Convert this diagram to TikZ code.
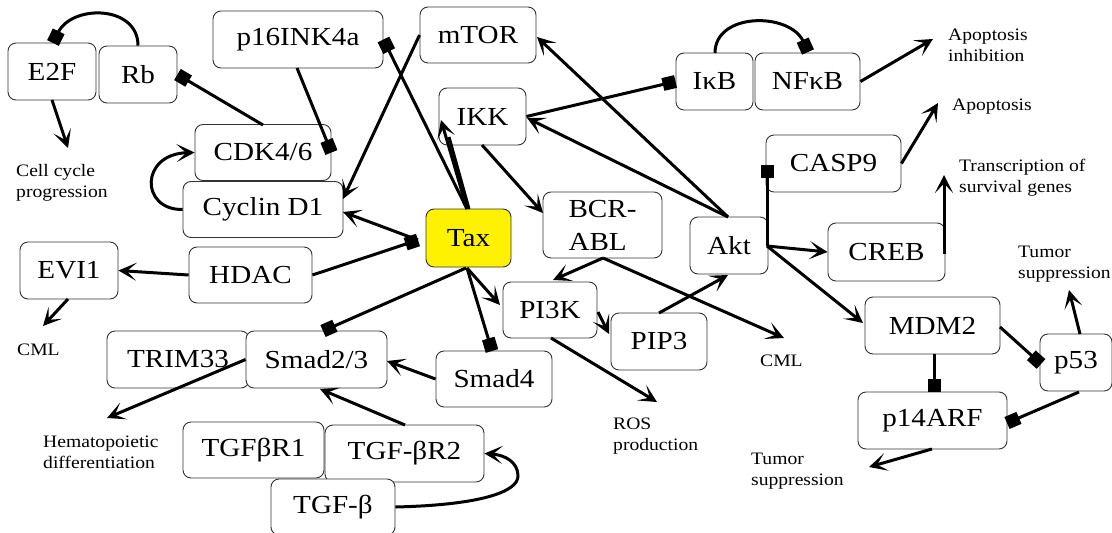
\documentclass[tikz,border=0pt]{standalone}
\usepackage{fontspec}
\setmainfont{Liberation Serif}[FakeStretch=1.12]
\usetikzlibrary{arrows.meta}

\begin{document}
\begin{tikzpicture}[x=1pt,y=-1pt,
  box/.style={draw=black!80, line width=0.9pt, rounded corners=8pt, fill=white,
    inner sep=0pt, font=\fontsize{26}{33}\selectfont},
  lbl/.style={anchor=west, align=left, inner sep=0pt, font=\fontsize{17.5}{21}\selectfont},
  link/.style={line width=3pt},
  act/.style={link, -{Stealth[length=18pt,width=18pt,inset=9.5pt]}},
  inh/.style={link, -{Square[length=13pt,width=13pt]}},
]
\useasboundingbox (0,0) rectangle (1112,533);

% ---------- molecules ----------
\node[box, minimum width=88pt,  minimum height=57pt] (e2f)    at (52,71.5)    {E2F};
\node[box, minimum width=78pt,  minimum height=57pt] (rb)     at (138,74.5)   {Rb};
\node[box, minimum width=170pt, minimum height=57pt] (p16)    at (298,39.5)   {p16INK4a};
\node[box, minimum width=136pt, minimum height=56pt] (cdk)    at (263,152.5)  {CDK4/6};
\node[box, minimum width=160pt, minimum height=56pt] (cyc)    at (263,209.5)  {Cyclin D1};
\node[box, minimum width=116pt, minimum height=56pt] (mtor)   at (478,35)     {mTOR};
\node[box, minimum width=87pt,  minimum height=57pt] (ikk)    at (482.5,116.5){IKK};
\node[box, minimum width=85pt,  minimum height=58pt, fill=yellow] (tax) at (468.5,238) {Tax};
\node[box, minimum width=119pt, minimum height=66pt, align=left] (bcr) at (602.5,225) {BCR-\\ABL};
\node[box, minimum width=78pt,  minimum height=57pt] (akt)    at (729,245.5)  {Akt};
\node[box, minimum width=77pt,  minimum height=57pt] (ikb)    at (714.5,81.5) {I\char"03BA B};
\node[box, minimum width=105pt, minimum height=57pt] (nfkb)   at (807.5,81.5) {NF\char"03BA B};
\node[box, minimum width=135pt, minimum height=57pt] (casp)   at (833.5,163.5){CASP9};
\node[box, minimum width=117pt, minimum height=58pt] (creb)   at (886.5,252)  {CREB};
\node[box, minimum width=98pt,  minimum height=57pt] (evi)    at (69,270.5)   {EVI1};
\node[box, minimum width=123pt, minimum height=56pt] (hdac)   at (250.5,275)  {HDAC};
\node[box, minimum width=142pt, minimum height=57pt] (trim)   at (178,359.5)  {TRIM33};
\node[box, minimum width=141pt, minimum height=57pt] (smad23) at (316.5,359.5){Smad2/3};
\node[box, minimum width=116pt, minimum height=56pt] (smad4)  at (494,379)    {Smad4};
\node[box, minimum width=94pt,  minimum height=56pt] (pi3k)   at (550,310)    {PI3K};
\node[box, minimum width=96pt,  minimum height=57pt] (pip3)   at (659,341.5)  {PIP3};
\node[box, minimum width=141pt, minimum height=56pt] (tgfr1)  at (253.5,450)  {TGF\char"03B2 R1};
\node[box, minimum width=159pt, minimum height=57pt] (tgfr2)  at (404.5,453.5){TGF-\char"03B2 R2};
\node[box, minimum width=124pt, minimum height=56pt] (tgfb)   at (333,507)    {TGF-\char"03B2};
\node[box, minimum width=135pt, minimum height=57pt] (mdm2)   at (932.5,325.5){MDM2};
\node[box, minimum width=72pt,  minimum height=57pt] (p53)    at (1076,362.5) {p53};
\node[box, minimum width=149pt, minimum height=57pt] (p14)    at (932.5,420.5){p14ARF};

% ---------- outcomes ----------
\node[lbl] (cellcyc) at (16,183)   {Cell cycle\\progression};
\node[lbl] (cml1)    at (17,350)   {CML};
\node[lbl] (hemato)  at (43,452.5) {Hematopoietic\\differentiation};
\node[lbl] (ros)     at (613,436)  {ROS\\production};
\node[lbl] (cml2)    at (760,361)  {CML};
\node[lbl] (tumor1)  at (751,471)  {Tumor\\suppression};
\node[lbl] (tumor2)  at (1018,264) {Tumor\\suppression};
\node[lbl] (apinh)   at (948,45)   {Apoptosis\\inhibition};
\node[lbl] (apop)    at (952,107)  {Apoptosis};
\node[lbl] (transc)  at (959,177.5){Transcription of\\survival genes};

% ---------- connector end points ----------
\coordinate (taxtop)  at (467,209);
\coordinate (taxbot)  at (467,268);
\coordinate (taxw)    at (418,240);
\coordinate (aktn)    at (728,217);
\coordinate (akte)    at (767,246);
\coordinate (bcrs)    at (603,258);
\coordinate (cellcycT) at (68,148);
\coordinate (cml1T)   at (43,326);
\coordinate (hematoT) at (107,418);
\coordinate (rosT)    at (657,402);
\coordinate (cml2T)   at (784,338);
\coordinate (tumor1T) at (869,467);
\coordinate (tumor2T) at (1069,290);
\coordinate (apinhT)  at (933,39);
\coordinate (apopT)   at (938,103);
\coordinate (transcT) at (944,175);

% ---------- cell cycle ----------
\draw[inh] (rb.north) .. controls (138,5) and (72,4) .. (53,43);
\draw[inh] (263,125) -- (rb.east);
\draw[inh] (297,68) -- (cdk.east);
\draw[act] (cyc.west) .. controls (140,210) and (140,154) .. (cdk.west);
\draw[act] (52,100) -- (cellcycT);
\draw[act] (mtor.west) -- (343,199);
\draw[inh] (taxtop) -- (p16.east);

% ---------- Tax ----------
\draw[act] (taxtop) -- (441,120);
\draw[link] (469,209) -- (449,137);
\draw[inh] (hdac.east) -- (taxw);
\draw[act] (taxw) -- (343,212);
\draw[act] (taxbot) -- (500,305);
\draw[inh] (taxbot) -- (492,351);
\draw[inh] (466,268) -- (323,331);

% ---------- IKK / NF-kB ----------
\draw[act] (482,145) -- (543,213);
\draw[inh] (ikk.east) -- (ikb.west);
\draw[inh] (715,53) .. controls (715,12) and (790,12) .. (808,52);
\draw[act] (nfkb.east) -- (apinhT);

% ---------- Akt ----------
\draw[act] (aktn) -- (537,37);
\draw[act] (aktn) -- (527,118);
\draw[inh] (akte) -- (767,165);
\draw[act] (casp.east) -- (apopT);
\draw[act] (akte) -- (creb.west);
\draw[act] (944,254) -- (transcT);
\draw[act] (akte) -- (863,323);
\draw[act] (659,313) -- (728,275);

% ---------- BCR-ABL / PI3K ----------
\draw[act] (bcrs) -- (553,280);
\draw[act] (bcrs) -- (cml2T);
\draw[act] (598,312) -- (609,334);
\draw[act] (551,338) -- (rosT);

% ---------- HDAC / Smad ----------
\draw[act] (hdac.west) -- (evi.east);
\draw[act] (68,299) -- (cml1T);
\draw[act] (smad4.west) -- (387,361);
\draw[act] (405,425) -- (320,389);
\draw[act] (smad23.west) -- (hematoT);
\draw[act] (tgfb.east) .. controls (480,505) and (518,492) .. (518,476)
                       .. controls (518,462) and (505,455) .. (tgfr2.east);

% ---------- p53 axis ----------
\draw[inh] (1000,327) -- (1041,364);
\draw[inh] (934,354) -- (934,392);
\draw[inh] (1079,392) -- (1007,423);
\draw[act] (1080,334) -- (tumor2T);
\draw[act] (932,449) -- (tumor1T);
\end{tikzpicture}
\end{document}
